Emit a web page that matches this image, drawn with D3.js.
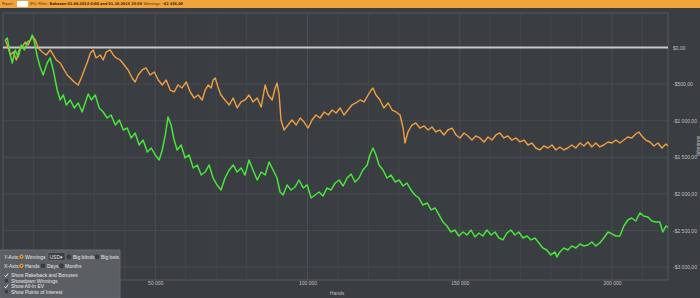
<!DOCTYPE html>
<html>
<head>
<meta charset="utf-8">
<script src="https://cdn.jsdelivr.net/npm/d3@7"></script>
<style>
  body { margin: 0; background: #3a3d41; }
  svg { display: block; font-family: "Liberation Sans", "DejaVu Sans", sans-serif; }
</style>
</head>
<body>
<svg width="700" height="298"></svg>
<script>
// hands are in thousands, winnings in $
var winnings = [
  [0.75,102],[1.4,130],[2.4,-102],[3.05,-212],[4.0,-34],[5.0,-130],[6.0,34],[7.0,-34],[8.0,75],[9.0,102],
  [9.6,170],[10.3,75],[11.3,-130],[12.2,-266],[13.2,-376],[14.5,-212],[15.5,-143],[16.5,-307],[17.8,-581],[18.8,-717],
  [19.8,-649],[20.8,-785],[22.1,-717],[23.4,-826],[24.7,-758],[26.0,-881],[27.3,-717],[28.0,-635],[29.0,-717],[30.3,-649],
  [31.6,-826],[32.9,-881],[34.2,-963],[35.5,-922],[36.9,-1059],[38.2,-990],[39.5,-1127],[40.8,-1100],[42.1,-1236],[43.4,-1168],
  [44.7,-1332],[46.0,-1264],[47.4,-1427],[48.7,-1373],[50.0,-1468],[51.3,-1537],[52.3,-1400],[53.3,-1195],[54.2,-949],[55.2,-1059],
  [56.2,-1264],[57.2,-1400],[58.5,-1332],[59.8,-1509],[61.1,-1468],[62.5,-1646],[63.8,-1605],[65.1,-1742],[66.4,-1701],[67.7,-1605],
  [69.0,-1783],[70.3,-1878],[71.6,-1947],[72.9,-1783],[74.3,-1673],[75.6,-1605],[76.9,-1701],[78.2,-1646],[79.5,-1742],[80.8,-1537],
  [82.1,-1673],[83.5,-1810],[84.8,-1701],[86.1,-1742],[87.4,-1564],[88.7,-1673],[90.0,-1783],[91.0,-1974],[92.0,-2015],[93.3,-1878],
  [94.6,-1947],[95.9,-1906],[97.2,-1810],[98.6,-1919],[99.9,-1878],[101.2,-2056],[102.5,-2015],[103.8,-1974],[105.1,-2028],[106.4,-1919],
  [107.7,-1947],[109.1,-1851],[110.4,-1810],[111.7,-1892],[113.0,-1783],[114.3,-1728],[115.6,-1837],[116.9,-1783],[118.2,-1673],[119.6,-1605],
  [120.5,-1468],[121.5,-1373],[122.5,-1468],[123.5,-1605],[124.8,-1673],[126.1,-1783],[127.4,-1742],[128.8,-1837],[130.1,-1810],[131.4,-1892],
  [132.7,-1851],[134.0,-1947],[135.3,-2015],[136.6,-2056],[137.9,-2151],[139.3,-2124],[140.6,-2219],[141.9,-2192],[143.2,-2288],[144.5,-2383],
  [145.8,-2438],[147.1,-2520],[148.4,-2493],[149.7,-2575],[151.1,-2520],[152.4,-2561],[153.7,-2493],[155.0,-2588],[156.3,-2534],[157.6,-2575],
  [158.9,-2493],[160.3,-2561],[161.6,-2520],[162.9,-2602],[164.2,-2629],[165.5,-2534],[166.8,-2493],[168.1,-2561],[169.4,-2520],[170.8,-2602],
  [172.1,-2575],[173.4,-2629],[174.7,-2602],[176.0,-2670],[177.3,-2739],[178.6,-2766],[179.9,-2834],[181.3,-2793],[181.9,-2862],[182.9,-2793],
  [184.2,-2739],[185.5,-2766],[186.8,-2711],[188.1,-2739],[189.5,-2684],[190.8,-2711],[192.1,-2698],[193.4,-2657],[194.7,-2711],[196.0,-2670],
  [197.3,-2602],[198.7,-2520],[200.0,-2547],[201.3,-2575],[202.6,-2575],[203.9,-2438],[205.2,-2356],[206.5,-2329],[207.8,-2370],[209.2,-2260],
  [210.4,-2302],[211.8,-2315],[213.1,-2370],[214.4,-2383],[215.7,-2383],[216.7,-2520],[217.7,-2438],[218.4,-2456]
];

var allInEV = [
  [0.75,102],[1.4,34],[2.4,-102],[3.4,-61],[4.4,-171],[5.3,-34],[6.3,7],[7.3,75],[8.3,34],[9.6,157],
  [10.6,102],[11.6,-7],[12.9,-61],[14.2,-102],[15.5,-34],[16.5,-102],[17.5,-171],[18.8,-212],[20.1,-307],[21.1,-376],
  [22.1,-417],[23.4,-471],[24.7,-512],[25.7,-417],[26.7,-307],[27.7,-198],[28.7,-75],[29.6,-34],[30.6,-143],[31.9,-102],
  [32.9,-171],[33.9,-61],[35.2,-34],[36.2,-102],[37.2,-143],[38.5,-171],[39.8,-239],[41.1,-307],[42.4,-417],[43.4,-471],
  [44.4,-376],[45.7,-307],[47.0,-280],[48.3,-376],[49.7,-335],[51.0,-444],[52.3,-512],[53.6,-444],[54.9,-581],[56.2,-608],
  [57.5,-512],[58.8,-553],[60.2,-471],[61.5,-608],[62.8,-690],[64.1,-649],[65.4,-717],[66.4,-581],[67.4,-512],[68.4,-553],
  [69.0,-444],[69.7,-417],[70.7,-553],[71.6,-649],[72.9,-717],[74.3,-785],[75.6,-690],[76.9,-826],[78.2,-744],[79.5,-717],
  [80.8,-649],[82.1,-744],[83.5,-690],[84.8,-813],[86.1,-512],[87.1,-649],[88.4,-717],[89.4,-553],[90.0,-485],[90.7,-649],
  [91.3,-990],[92.3,-1127],[93.6,-1059],[94.9,-990],[96.3,-1059],[97.6,-963],[98.9,-1018],[100.2,-1100],[101.5,-990],[102.8,-922],
  [104.1,-963],[105.5,-881],[106.8,-922],[108.1,-854],[109.4,-895],[110.7,-826],[112.0,-922],[113.3,-854],[114.6,-785],[115.9,-758],
  [117.3,-717],[118.6,-744],[119.9,-649],[120.9,-581],[121.5,-553],[122.5,-649],[123.8,-717],[125.1,-826],[126.5,-758],[127.8,-854],
  [129.1,-881],[130.4,-922],[131.4,-1100],[132.0,-1305],[133.0,-1154],[134.3,-1059],[135.6,-1031],[136.9,-1100],[138.3,-1072],[139.6,-1127],
  [140.9,-1086],[142.2,-1154],[143.5,-1127],[144.8,-1195],[146.1,-1127],[147.5,-1100],[148.8,-1195],[150.1,-1236],[151.4,-1168],[152.7,-1209],
  [154.0,-1264],[155.3,-1209],[156.6,-1236],[158.0,-1291],[159.3,-1223],[160.6,-1264],[161.9,-1195],[163.2,-1168],[164.5,-1236],[165.8,-1209],
  [167.1,-1264],[168.5,-1236],[169.8,-1291],[171.1,-1264],[172.4,-1332],[173.7,-1305],[175.0,-1373],[176.3,-1400],[177.6,-1345],[179.0,-1373],
  [180.3,-1332],[181.6,-1400],[182.9,-1359],[184.2,-1400],[185.5,-1373],[186.8,-1332],[188.1,-1373],[189.5,-1305],[190.8,-1345],[192.1,-1291],
  [193.4,-1359],[194.7,-1305],[196.0,-1359],[197.3,-1332],[198.7,-1291],[200.0,-1305],[201.3,-1264],[202.6,-1305],[203.9,-1264],[205.2,-1223],
  [206.5,-1236],[207.8,-1182],[208.8,-1154],[209.8,-1209],[211.1,-1264],[212.5,-1291],[213.8,-1345],[215.1,-1305],[216.4,-1373],[217.7,-1318],
  [218.4,-1345]
];

var yTicks = [0, -500, -1000, -1500, -2000, -2500, -3000];
var xTicks = [50, 100, 150, 200];

var svg = d3.select("svg");
var plot = {left: 3, right: 668, top: 13, bottom: 280};

var x = d3.scaleLinear().domain([0, 218.4]).range([plot.left, plot.right]);
var y = d3.scaleLinear().domain([-3176, 471]).range([plot.bottom, plot.top]);

function money(v) {
  var s = Math.abs(v).toString().replace(/\B(?=(\d{3})+(?!\d))/g, " ");
  return (v < 0 ? "-" : "") + "$" + s + ",00";
}
function hands(v) {
  return (v * 1000).toString().replace(/\B(?=(\d{3})+(?!\d))/g, " ");
}

// background
svg.append("rect").attr("width", 700).attr("height", 298).attr("fill", "#3a3d41");

// top info bar, pieces laid out one after another so they never collide
svg.append("rect").attr("width", 700).attr("height", 8).attr("fill", "#f2a43c");
var bar = svg.append("g").attr("font-size", 3.8).attr("fill", "#3a2a10")
  .attr("font-family", "'Liberation Sans Narrow', 'DejaVu Sans Condensed', sans-serif");
var barPieces = [
  ["Player:", false], ["BOX", false], ["(PS)", false], ["Filter:", false],
  ["Between 01.08.2013 0:00 and 01.10.2013 23:59", true], ["Winnings:", false], ["-$2 456,00", true]
];
var cursor = 2;
barPieces.forEach(function(p) {
  if (p[0] === "BOX") {
    bar.append("rect").attr("x", cursor + 1.5).attr("y", 1).attr("width", 11).attr("height", 6).attr("fill", "#ffffff");
    cursor += 14;
    return;
  }
  var t = bar.append("text").attr("x", cursor).attr("y", 5.4)
    .attr("font-weight", p[1] ? "bold" : null).text(p[0]);
  cursor += t.node().getComputedTextLength() + 1.8;
});

// grid
var grid = svg.append("g");
grid.selectAll(".vg").data(d3.range(10, 218, 10)).join("line")
  .attr("x1", d => x(d)).attr("x2", d => x(d))
  .attr("y1", plot.top).attr("y2", plot.bottom)
  .attr("stroke", d => d % 50 === 0 ? "#4b4f54" : "#43474b").attr("stroke-width", 1);
grid.selectAll(".hg").data(yTicks.filter(d => d !== 0)).join("line")
  .attr("x1", plot.left).attr("x2", plot.right)
  .attr("y1", d => y(d)).attr("y2", d => y(d))
  .attr("stroke", "#474b50").attr("stroke-width", 1);

svg.append("rect")
  .attr("x", plot.left).attr("y", plot.top)
  .attr("width", plot.right - plot.left).attr("height", plot.bottom - plot.top)
  .attr("fill", "none").attr("stroke", "#54585d");

// zero line
svg.append("line")
  .attr("x1", plot.left).attr("x2", plot.right)
  .attr("y1", y(0)).attr("y2", y(0))
  .attr("stroke", "#c8c8c8").attr("stroke-width", 2);

var line = d3.line().x(d => x(d[0])).y(d => y(d[1]));

svg.append("path").datum(allInEV)
  .attr("d", line).attr("fill", "none")
  .attr("stroke", "#f0a040").attr("stroke-width", 1.4).attr("stroke-linejoin", "round");

svg.append("path").datum(winnings)
  .attr("d", line).attr("fill", "none")
  .attr("stroke", "#46e63a").attr("stroke-width", 1.5).attr("stroke-linejoin", "round");

// axes
var yAxis = svg.append("g")
  .attr("transform", "translate(" + (plot.right + 2) + ",0)")
  .call(d3.axisRight(y).tickValues(yTicks).tickSize(0).tickPadding(3).tickFormat(money));
yAxis.select(".domain").remove();
yAxis.selectAll("text").attr("fill", "#c0c0c0").attr("font-size", 5);

var xAxis = svg.append("g")
  .attr("transform", "translate(0," + plot.bottom + ")")
  .call(d3.axisBottom(x).tickValues(xTicks).tickSize(0).tickPadding(1).tickFormat(hands));
xAxis.select(".domain").remove();
xAxis.selectAll("text").attr("fill", "#c0c0c0").attr("font-size", 5);

svg.append("text").attr("x", 337).attr("y", 295).attr("text-anchor", "middle")
  .attr("font-size", 5).attr("fill", "#c0c0c0").text("Hands");
svg.append("text").attr("transform", "translate(699.5,146) rotate(-90)")
  .attr("text-anchor", "middle").attr("font-size", 5).attr("fill", "#c0c0c0").text("Winnings");

// options panel
var panel = svg.append("g").attr("font-size", 5).attr("fill", "#e6e6e6");
panel.append("rect").attr("x", 0).attr("y", 250).attr("width", 120).attr("height", 48)
  .attr("fill", "#5b5f64").attr("stroke", "#676b70");

function radio(cx, cy, on) {
  panel.append("circle").attr("cx", cx).attr("cy", cy).attr("r", 2)
    .attr("fill", on ? "#f0a040" : "#3a3d41").attr("stroke", on ? "#c07a2a" : "#2e3134").attr("stroke-width", 0.6);
  if (on) panel.append("circle").attr("cx", cx).attr("cy", cy).attr("r", 0.8).attr("fill", "#5a3a10");
}

panel.append("text").attr("x", 4).attr("y", 258.5).text("Y-Axis:");
radio(21.5, 256.8, true);
panel.append("text").attr("x", 25).attr("y", 258.5).text("Winnings");
panel.append("rect").attr("x", 48).attr("y", 252.5).attr("width", 17).attr("height", 8)
  .attr("fill", "#3a3d41").attr("stroke", "#7a7e83").attr("stroke-width", 0.5);
panel.append("text").attr("x", 49.5).attr("y", 258.5).text("USD");
panel.append("text").attr("x", 60).attr("y", 258.5).text("▾");
radio(69, 256.8, false);
panel.append("text").attr("x", 73).attr("y", 258.5).text("Big blinds");
radio(97, 256.8, false);
panel.append("text").attr("x", 101).attr("y", 258.5).text("Big bets");

panel.append("text").attr("x", 4).attr("y", 267.5).text("X-Axis:");
radio(21.5, 265.8, true);
panel.append("text").attr("x", 25).attr("y", 267.5).text("Hands");
radio(43, 265.8, false);
panel.append("text").attr("x", 47).attr("y", 267.5).text("Days");
radio(61.5, 265.8, false);
panel.append("text").attr("x", 65).attr("y", 267.5).text("Months");

var checks = [
  ["Show Rakeback and Bonuses", true],
  ["Showdown Winnings", false],
  ["Show All-In EV", true],
  ["Show Points of Interest", false]
];
checks.forEach(function(c, i) {
  var cy = 275.5 + i * 5.5;
  if (c[1]) {
    panel.append("path").attr("d", "M4.5," + (cy) + " l1.2,1.4 l2.4,-3.4")
      .attr("fill", "none").attr("stroke", "#f2f2f2").attr("stroke-width", 0.9);
  } else {
    panel.append("rect").attr("x", 5).attr("y", cy - 1.8).attr("width", 3).attr("height", 3)
      .attr("fill", "#35383c");
  }
  panel.append("text").attr("x", 11).attr("y", cy + 1.6).text(c[0]);
});
</script>
</body>
</html>
